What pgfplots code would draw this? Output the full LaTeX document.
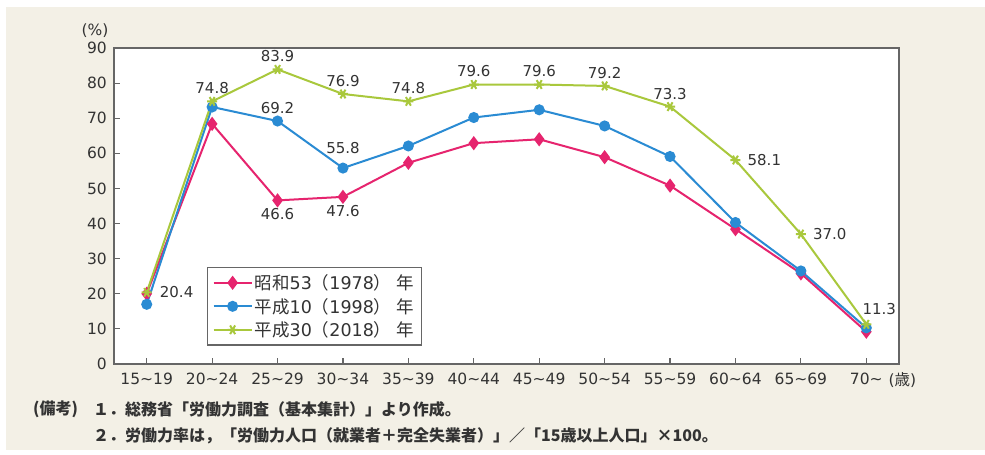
\documentclass[border=0pt]{standalone}
\usepackage{fontspec}
\setmainfont{DejaVu Sans}
\newfontfamily\cjk{Noto Sans CJK JP}
\usepackage{pgfplots}
\pgfplotsset{compat=1.18}
\definecolor{bg}{HTML}{F3F0E6}
\definecolor{cpink}{HTML}{E6246E}
\definecolor{cblue}{HTML}{2A8BD3}
\definecolor{cgreen}{HTML}{A9C83C}
\definecolor{txt}{HTML}{333333}
\definecolor{frm}{HTML}{666666}
\begin{document}
\begin{tikzpicture}[x=1pt,y=1pt]
\useasboundingbox (0,0) rectangle (985,455);
\fill[bg] (6,5) rectangle (985,448);
\begin{axis}[
  at={(114pt,91pt)}, anchor=south west,
  scale only axis, width=785pt, height=316pt,
  xmin=-0.5, xmax=11.5, ymin=0, ymax=90,
  clip=false,
  axis background/.style={fill=white},
  axis line style={frm, line width=1.2pt},
  xtick={0,...,11},
  xticklabels={15\textasciitilde19,20\textasciitilde24,25\textasciitilde29,30\textasciitilde34,35\textasciitilde39,40\textasciitilde44,45\textasciitilde49,50\textasciitilde54,55\textasciitilde59,60\textasciitilde64,65\textasciitilde69,70\textasciitilde},
  ytick={0,10,...,90},
  tick align=inside, xtick pos=left, ytick pos=left,
  major tick length=6pt,
  tick style={frm, line width=1.2pt},
  /pgf/number format/assume math mode=true,
  ticklabel style={font=\fontsize{15.5}{15.5}\selectfont, text=txt},
  yticklabel style={anchor=east, inner sep=0pt, xshift=-7pt},
  xticklabel style={anchor=north, inner sep=0pt, yshift=-9pt},
  legend style={at={(0.1185,0.307)}, anchor=north west, draw=frm, line width=1.2pt,
    font=\fontsize{17.5}{19}\selectfont, text=txt, inner xsep=5pt, inner ysep=5pt,
    row sep=3pt},
  legend cell align=left,
  legend image code/.code={\draw[mark repeat=2,mark phase=2,#1] plot coordinates {(0pt,0pt) (19pt,0pt) (38pt,0pt)};},
]
\addplot[cpink, line width=2pt, mark=diamond*, mark size=5.5pt, mark options={solid}] coordinates {
(0,20.0) (1,68.4) (2,46.6) (3,47.6) (4,57.3) (5,62.9) (6,64.0) (7,58.9) (8,50.8) (9,38.4) (10,25.8) (11,9.2)};
\addlegendentry{{\cjk 昭和}53{\cjk （}1978{\cjk ）} {\cjk 年}}
\addplot[cblue, line width=2pt, mark=*, mark size=4.5pt] coordinates {
(0,17.0) (1,73.2) (2,69.2) (3,55.8) (4,62.1) (5,70.2) (6,72.4) (7,67.8) (8,59.1) (9,40.3) (10,26.5) (11,10.3)};
\addlegendentry{{\cjk 平成}10{\cjk （}1998{\cjk ）} {\cjk 年}}
\addplot[cgreen, line width=2pt, mark=asterisk, mark size=5pt, mark options={rotate=90, line width=2pt}] coordinates {
(0,20.4) (1,74.8) (2,83.9) (3,76.9) (4,74.8) (5,79.6) (6,79.6) (7,79.2) (8,73.3) (9,58.1) (10,37.0) (11,11.3)};
\addlegendentry{{\cjk 平成}30{\cjk （}2018{\cjk ）} {\cjk 年}}
\begin{scope}[every node/.style={font=\fontsize{15}{15}\selectfont, text=txt, inner sep=0pt}]
\node[anchor=west, xshift=13pt] at (axis cs:0,20.4) {20.4};
\node[yshift=13pt] at (axis cs:1,74.8) {74.8};
\node[yshift=13pt] at (axis cs:2,83.9) {83.9};
\node[yshift=13pt] at (axis cs:3,76.9) {76.9};
\node[yshift=13pt] at (axis cs:4,74.8) {74.8};
\node[yshift=13pt] at (axis cs:5,79.6) {79.6};
\node[yshift=13pt] at (axis cs:6,79.6) {79.6};
\node[yshift=13pt] at (axis cs:7,79.2) {79.2};
\node[yshift=13pt] at (axis cs:8,73.3) {73.3};
\node[anchor=west, xshift=12pt] at (axis cs:9,58.1) {58.1};
\node[anchor=west, xshift=12pt] at (axis cs:10,37.0) {37.0};
\node[xshift=13pt, yshift=15pt] at (axis cs:11,11.3) {11.3};
\node[yshift=13pt] at (axis cs:2,69.2) {69.2};
\node[yshift=20pt] at (axis cs:3,55.8) {55.8};
\node[yshift=-14pt] at (axis cs:2,46.6) {46.6};
\node[yshift=-14pt] at (axis cs:3,47.6) {47.6};
\end{scope}
\node[anchor=west, inner sep=0pt, font=\fontsize{15.5}{15.5}\selectfont, text=txt] at (axis cs:11,0) [xshift=22pt, yshift=-16.5pt] {({\cjk 歳})};
\node[inner sep=0pt, font=\fontsize{15.5}{15.5}\selectfont, text=txt] at (rel axis cs:0,1) [xshift=-19pt, yshift=17pt] {(\%)};
\end{axis}
\begin{scope}[every node/.style={font=\fontsize{16}{16}\selectfont\cjk\bfseries, text=txt, inner sep=0pt, anchor=west}]
\node at (33,46) {(備考)};
\node at (93,46) {１．総務省「労働力調査（基本集計）」より作成。};
\node at (93,19) {２．労働力率は，「労働力人口（就業者＋完全失業者）」／「15歳以上人口」×100。};
\end{scope}
\end{tikzpicture}
\end{document}
